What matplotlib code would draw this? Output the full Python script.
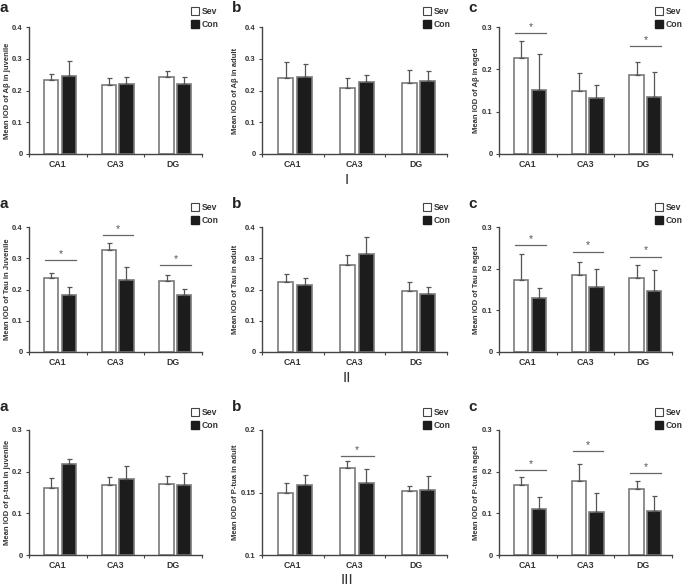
import matplotlib
matplotlib.use('Agg')
import matplotlib.pyplot as plt
from matplotlib.lines import Line2D
import numpy as np

plt.rcParams['font.family'] = ['Liberation Sans', 'DejaVu Sans']

regions = ['CA1', 'CA3', 'DG']

# row I : A-beta
ab_juv_sev = [0.233, 0.218, 0.244]
ab_juv_sev_err = [0.019, 0.021, 0.017]
ab_juv_con = [0.247, 0.220, 0.220]
ab_juv_con_err = [0.046, 0.022, 0.022]

ab_adu_sev = [0.240, 0.207, 0.224]
ab_adu_sev_err = [0.049, 0.032, 0.039]
ab_adu_con = [0.244, 0.226, 0.231]
ab_adu_con_err = [0.039, 0.023, 0.030]

ab_age_sev = [0.227, 0.150, 0.187]
ab_age_sev_err = [0.041, 0.041, 0.031]
ab_age_con = [0.152, 0.132, 0.135]
ab_age_con_err = [0.085, 0.032, 0.058]
ab_age_sig = [0.286, None, 0.254]

# row II : Tau
tau_juv_sev = [0.238, 0.325, 0.226]
tau_juv_sev_err = [0.014, 0.023, 0.019]
tau_juv_con = [0.184, 0.231, 0.184]
tau_juv_con_err = [0.025, 0.040, 0.019]
tau_juv_sig = [0.293, 0.374, 0.277]

tau_adu_sev = [0.223, 0.277, 0.196]
tau_adu_sev_err = [0.028, 0.033, 0.029]
tau_adu_con = [0.213, 0.314, 0.186]
tau_adu_con_err = [0.025, 0.053, 0.021]

tau_age_sev = [0.173, 0.184, 0.178]
tau_age_sev_err = [0.063, 0.032, 0.030]
tau_age_con = [0.130, 0.156, 0.147]
tau_age_con_err = [0.024, 0.044, 0.049]
tau_age_sig = [0.257, 0.241, 0.229]

# row III : P-tau
pt_juv_sev = [0.162, 0.169, 0.170]
pt_juv_sev_err = [0.022, 0.019, 0.020]
pt_juv_con = [0.219, 0.182, 0.169]
pt_juv_con_err = [0.012, 0.032, 0.027]

pt_adu_sev = [0.150, 0.170, 0.151]
pt_adu_sev_err = [0.008, 0.005, 0.004]
pt_adu_con = [0.156, 0.158, 0.152]
pt_adu_con_err = [0.008, 0.011, 0.011]
pt_adu_sig = [None, 0.179, None]

pt_age_sev = [0.168, 0.178, 0.158]
pt_age_sev_err = [0.019, 0.040, 0.019]
pt_age_con = [0.110, 0.104, 0.106]
pt_age_con_err = [0.029, 0.046, 0.035]
pt_age_sig = [0.204, 0.249, 0.196]

W, H = 685, 586
txt = '#333333'
edge = '#7a7a7a'


def px_box(x0, x1, ytop, ybot):
    return [x0/W, 1-ybot/H, (x1-x0)/W, (ybot-ytop)/H]


def panel(fig, box, sev, sev_err, con, con_err, ylabel, ylim, yticks,
          sig=None, leg_x=0.92, leg_y=1.2, lab_x=-0.105):
    ax = fig.add_axes(box)
    x = np.arange(3)
    bottom = ylim[0]
    sev_h = [v - bottom for v in sev]
    con_h = [v - bottom for v in con]
    ax.bar(x + 0.385, sev_h, 0.245, bottom=bottom, color='white', edgecolor=edge, lw=1.2)
    ax.bar(x + 0.69, con_h, 0.245, bottom=bottom, color='#1c1c1c', edgecolor=edge, lw=1.2)
    ax.errorbar(x + 0.385, sev, yerr=[[0]*3, sev_err], fmt='none', ecolor='#555555',
                elinewidth=0.9, capsize=1.8, capthick=0.9)
    ax.errorbar(x + 0.69, con, yerr=[[0]*3, con_err], fmt='none', ecolor='#555555',
                elinewidth=0.9, capsize=1.8, capthick=0.9)
    if sig is not None:
        span = ylim[1] - ylim[0]
        for i, s in enumerate(sig):
            if s is None:
                continue
            ax.plot([i + 0.28, i + 0.81], [s, s], color='#666666', lw=0.9, clip_on=False)
            ax.text(i + 0.545, s + span*0.01, '*', ha='center', va='bottom',
                    fontsize=7.5, color='#555555')
    ax.set_xlim(0, 3)
    ax.set_ylim(ylim)
    ax.set_yticks(yticks)
    ax.set_yticklabels(['%g' % t for t in yticks])
    ax.set_xticks([0.5, 1.5, 2.5])
    ax.set_xticklabels(regions, fontweight='bold', fontsize=6.3, color=txt)
    ax.set_xticks([0, 1, 2, 3], minor=True)
    ax.tick_params(axis='x', which='major', length=0, pad=4)
    ax.tick_params(axis='x', which='minor', length=2, width=0.8, color='#444444')
    ax.tick_params(axis='y', length=2, width=0.8, labelsize=5.5, colors='#444444',
                   labelcolor=txt, pad=2.5)
    for t in ax.get_yticklabels():
        t.set_fontweight('bold')
    for s in ['top', 'right']:
        ax.spines[s].set_visible(False)
    for s in ['left', 'bottom']:
        ax.spines[s].set_color('#444444')
        ax.spines[s].set_linewidth(1)
    ax.set_ylabel(ylabel, fontsize=5.5, fontweight='bold', color=txt)
    ax.yaxis.set_label_coords(lab_x, 0.5)
    handles = [Line2D([], [], ls='none', marker='s', markersize=5.5, markerfacecolor='white',
                      markeredgecolor='#444444', markeredgewidth=0.8),
               Line2D([], [], ls='none', marker='s', markersize=5.5, markerfacecolor='#1c1c1c',
                      markeredgecolor='#1c1c1c')]
    leg = ax.legend(handles, ['Sev', 'Con'], loc='upper left', bbox_to_anchor=(leg_x, leg_y),
                    frameon=False, fontsize=6.2, handlelength=0.7, handletextpad=0.45,
                    labelspacing=0.45, borderpad=0, borderaxespad=0)
    for t in leg.get_texts():
        t.set_fontweight('bold')
        t.set_color(txt)
    return ax


fig = plt.figure(figsize=(W/100, H/100), dpi=100)

cols = [(29, 202), (262, 447), (499, 672)]
leg_xs = [0.94, 0.875, 0.905]
lab_xs = [-0.105, -0.125, -0.11]
rows = [(27, 154), (227, 352), (430, 555)]
leg_ys = [1.155, 1.19, 1.175]

y4 = [0, 0.1, 0.2, 0.3, 0.4]
y3 = [0, 0.1, 0.2, 0.3]

specs = [
    [(ab_juv_sev, ab_juv_sev_err, ab_juv_con, ab_juv_con_err, 'Mean IOD of A\u03b2 in juvenile', (0, 0.4), y4, None),
     (ab_adu_sev, ab_adu_sev_err, ab_adu_con, ab_adu_con_err, 'Mean IOD of A\u03b2 in adult', (0, 0.4), y4, None),
     (ab_age_sev, ab_age_sev_err, ab_age_con, ab_age_con_err, 'Mean IOD of A\u03b2 in aged', (0, 0.3), y3, ab_age_sig)],
    [(tau_juv_sev, tau_juv_sev_err, tau_juv_con, tau_juv_con_err, 'Mean IOD of Tau in Juvenile', (0, 0.4), y4, tau_juv_sig),
     (tau_adu_sev, tau_adu_sev_err, tau_adu_con, tau_adu_con_err, 'Mean IOD of Tau in adult', (0, 0.4), y4, None),
     (tau_age_sev, tau_age_sev_err, tau_age_con, tau_age_con_err, 'Mean IOD of Tau in aged', (0, 0.3), y3, tau_age_sig)],
    [(pt_juv_sev, pt_juv_sev_err, pt_juv_con, pt_juv_con_err, 'Mean IOD of p-tua in juvenile', (0, 0.3), y3, None),
     (pt_adu_sev, pt_adu_sev_err, pt_adu_con, pt_adu_con_err, 'Mean IOD of P-tua in adult', (0.1, 0.2), [0.1, 0.15, 0.2], pt_adu_sig),
     (pt_age_sev, pt_age_sev_err, pt_age_con, pt_age_con_err, 'Mean IOD of P-tua in aged', (0, 0.3), y3, pt_age_sig)],
]

for r, (ytop, ybot) in enumerate(rows):
    for c, (x0, x1) in enumerate(cols):
        sev, sev_err, con, con_err, lab, ylim, yt, sig = specs[r][c]
        panel(fig, px_box(x0, x1, ytop, ybot), sev, sev_err, con, con_err, lab, ylim, yt,
              sig=sig, leg_x=leg_xs[c], leg_y=leg_ys[r], lab_x=lab_xs[c])

# panel letters
letter_x = [0, 232, 468]
letter_y = [8, 204, 407]
for r in range(3):
    for c, l in enumerate('abc'):
        fig.text(letter_x[c]/W, 1 - letter_y[r]/H, l, fontsize=11, fontweight='bold',
                 ha='left', va='center', color='#222222')

# row numerals
for txt_r, yy in zip(['I', 'II', 'III'], [180, 378, 580]):
    fig.text(347/W, 1 - yy/H, txt_r, fontsize=11, ha='center', va='center', color='#333333')

fig.savefig('out.png', dpi=100)
plt.close()
